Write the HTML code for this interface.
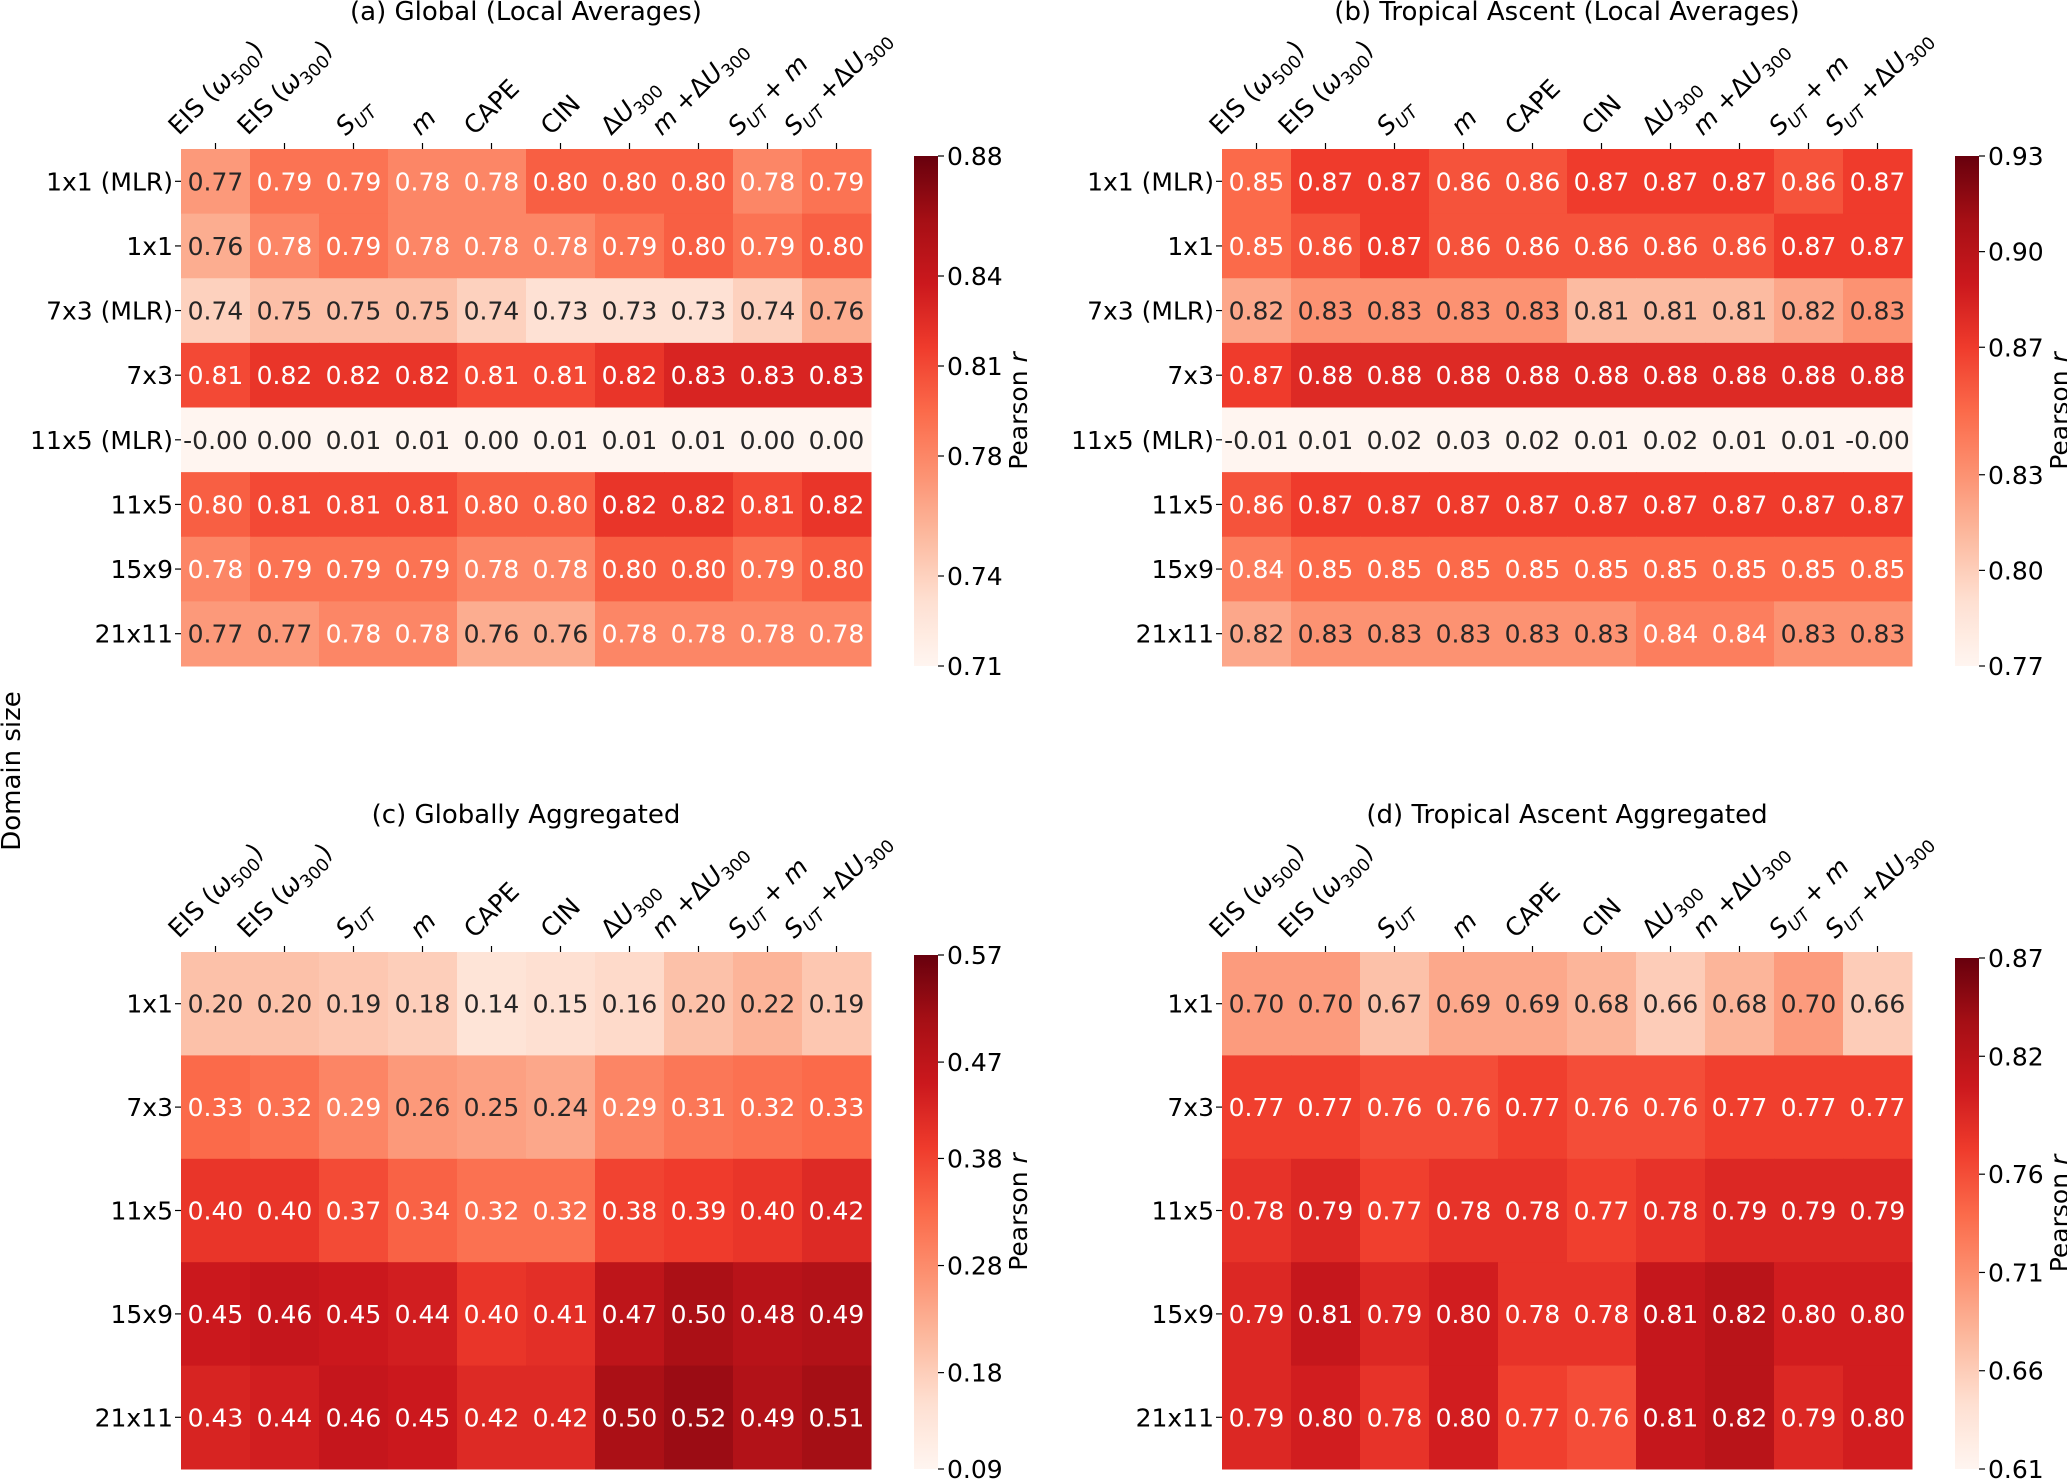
<!DOCTYPE html>
<html><head><meta charset="utf-8"><style>
html,body{margin:0;padding:0;background:#fff;}
svg{display:block;font-family:"DejaVu Sans","Liberation Sans",sans-serif;}
</style></head><body>
<svg id="fig" width="2067" height="1481" viewBox="0 0 2067 1481" xmlns="http://www.w3.org/2000/svg">
<defs id="defs"></defs>
<text x="0" y="0" font-size="26" text-anchor="middle" transform="translate(20,771) rotate(-90)">Domain size</text>
</svg>
<script>
// ---- data ----
const colLabels = ['EIS (ω500)','EIS (ω300)','SUT','m','CAPE','CIN','ΔU300','m +ΔU300','SUT + m','SUT +ΔU300'];
const rowsLocal = ['1x1 (MLR)','1x1','7x3 (MLR)','7x3','11x5 (MLR)','11x5','15x9','21x11'];
const rowsAgg = ['1x1','7x3','11x5','15x9','21x11'];
const valuesA = [
[0.77,0.79,0.79,0.78,0.78,0.80,0.80,0.80,0.78,0.79],
[0.76,0.78,0.79,0.78,0.78,0.78,0.79,0.80,0.79,0.80],
[0.74,0.75,0.75,0.75,0.74,0.73,0.73,0.73,0.74,0.76],
[0.81,0.82,0.82,0.82,0.81,0.81,0.82,0.83,0.83,0.83],
[-0.001,0.00,0.01,0.01,0.00,0.01,0.01,0.01,0.00,0.00],
[0.80,0.81,0.81,0.81,0.80,0.80,0.82,0.82,0.81,0.82],
[0.78,0.79,0.79,0.79,0.78,0.78,0.80,0.80,0.79,0.80],
[0.77,0.77,0.78,0.78,0.76,0.76,0.78,0.78,0.78,0.78]];
const valuesB = [
[0.85,0.87,0.87,0.86,0.86,0.87,0.87,0.87,0.86,0.87],
[0.85,0.86,0.87,0.86,0.86,0.86,0.86,0.86,0.87,0.87],
[0.82,0.83,0.83,0.83,0.83,0.81,0.81,0.81,0.82,0.83],
[0.87,0.88,0.88,0.88,0.88,0.88,0.88,0.88,0.88,0.88],
[-0.01,0.01,0.02,0.03,0.02,0.01,0.02,0.01,0.01,-0.001],
[0.86,0.87,0.87,0.87,0.87,0.87,0.87,0.87,0.87,0.87],
[0.84,0.85,0.85,0.85,0.85,0.85,0.85,0.85,0.85,0.85],
[0.82,0.83,0.83,0.83,0.83,0.83,0.84,0.84,0.83,0.83]];
const valuesC = [
[0.20,0.20,0.19,0.18,0.14,0.15,0.16,0.20,0.22,0.19],
[0.33,0.32,0.29,0.26,0.25,0.24,0.29,0.31,0.32,0.33],
[0.40,0.40,0.37,0.34,0.32,0.32,0.38,0.39,0.40,0.42],
[0.45,0.46,0.45,0.44,0.40,0.41,0.47,0.50,0.48,0.49],
[0.43,0.44,0.46,0.45,0.42,0.42,0.50,0.52,0.49,0.51]];
const valuesD = [
[0.70,0.70,0.67,0.69,0.69,0.68,0.66,0.68,0.70,0.66],
[0.77,0.77,0.76,0.76,0.77,0.76,0.76,0.77,0.77,0.77],
[0.78,0.79,0.77,0.78,0.78,0.77,0.78,0.79,0.79,0.79],
[0.79,0.81,0.79,0.80,0.78,0.78,0.81,0.82,0.80,0.80],
[0.79,0.80,0.78,0.80,0.77,0.76,0.81,0.82,0.79,0.80]];
const ticksA = [0.71,0.74,0.78,0.81,0.84,0.88];
const ticksB = [0.77,0.80,0.83,0.87,0.90,0.93];
const ticksC = [0.09,0.18,0.28,0.38,0.47,0.57];
const ticksD = [0.61,0.66,0.71,0.76,0.82,0.87];
const rangeA = [0.71,0.88], rangeB = [0.77,0.93], rangeC = [0.09,0.57], rangeD = [0.61,0.87];

// ---- helpers ----
const NS='http://www.w3.org/2000/svg';
const svg=document.getElementById('fig');
const defs=document.getElementById('defs');
const REDS=['#fff5f0','#fee0d2','#fcbba1','#fc9272','#fb6a4a','#ef3b2c','#cb181d','#a50f15','#67000d'];
function hex(h){return [1,3,5].map(i=>parseInt(h.substr(i,2),16));}
function cmap(t){t=Math.max(0,Math.min(1,t));const s=t*(REDS.length-1);const i=Math.min(Math.floor(s),REDS.length-2);const f=s-i;const a=hex(REDS[i]),b=hex(REDS[i+1]);return a.map((v,k)=>Math.round(v+(b[k]-v)*f));}
function lum(c){const l=c.map(v=>{v/=255;return v<=0.03928?v/12.92:Math.pow((v+0.055)/1.055,2.4);});return 0.2126*l[0]+0.7152*l[1]+0.0722*l[2];}
function mk(tag,attrs,parent){const e=document.createElementNS(NS,tag);for(const k in attrs)e.setAttribute(k,attrs[k]);(parent||svg).appendChild(e);return e;}
const SUB='baseline-shift="sub" font-size="70%"';
function labelMarkup(s){
  const map={
   'EIS (ω500)':'EIS (<tspan font-style="italic">ω</tspan><tspan '+SUB+'>500</tspan>)',
   'EIS (ω300)':'EIS (<tspan font-style="italic">ω</tspan><tspan '+SUB+'>300</tspan>)',
   'SUT':'<tspan font-style="italic">S</tspan><tspan '+SUB+' font-style="italic">UT</tspan>',
   'm':'<tspan font-style="italic">m</tspan>',
   'CAPE':'CAPE','CIN':'CIN',
   'ΔU300':'Δ<tspan font-style="italic">U</tspan><tspan '+SUB+'>300</tspan>',
   'm +ΔU300':'<tspan font-style="italic">m</tspan> +Δ<tspan font-style="italic">U</tspan><tspan '+SUB+'>300</tspan>',
   'SUT + m':'<tspan font-style="italic">S</tspan><tspan '+SUB+' font-style="italic">UT</tspan> + <tspan font-style="italic">m</tspan>',
   'SUT +ΔU300':'<tspan font-style="italic">S</tspan><tspan '+SUB+' font-style="italic">UT</tspan> +Δ<tspan font-style="italic">U</tspan><tspan '+SUB+'>300</tspan>'};
  return map[s]||s;
}

function panel(id,title,rows,vals,range,ticks,box,cb){
  const g=mk('g',{});
  
  
  const [x0,y0,x1,y1]=box;
  const nC=colLabels.length,nR=rows.length;
  const cw=(x1-x0)/nC,ch=(y1-y0)/nR;
  const xs=c=>x0+c*cw, ys=r=>y0+r*ch;
  const tnorm=v=>(v-range[0])/(range[1]-range[0]);
  // title
  const tt=mk('text',{x:(x0+x1)/2,y:box[4],'font-size':26,'text-anchor':'middle'},g);
  
  
  tt.textContent=title;
  // cells
  for(let r=0;r<nR;r++)for(let c=0;c<nC;c++){
    const v=vals[r][c];const col=cmap(tnorm(v));
    const rc=mk('rect',{x:xs(c),y:ys(r),width:cw+0.5,height:ch+0.5,fill:'rgb('+col.join(',')+')'},g);
    
    
    const tx=mk('text',{x:xs(c)+cw/2,y:ys(r)+ch/2+9,'font-size':25,'text-anchor':'middle',fill:lum(col)>0.408?'#262626':'#ffffff'},g);
    
    
    tx.textContent=v.toFixed(2);
  }
  // row labels
  for(let r=0;r<nR;r++){
    const cy=ys(r)+ch/2;
    mk('line',{x1:x0-6,x2:x0,y1:cy,y2:cy,stroke:'#000','stroke-width':1.2},g);
    const t=mk('text',{x:x0-8,y:cy+9,'font-size':25,'text-anchor':'end'},g);
    
    
    t.textContent=rows[r];
  }
  // col labels
  for(let c=0;c<nC;c++){
    const cx=xs(c)+cw/2;
    mk('line',{x1:cx,x2:cx,y1:y0-6,y2:y0,stroke:'#000','stroke-width':1.2},g);
    const t=mk('text',{x:0,y:0,'font-size':25,'text-anchor':'middle','dominant-baseline':'central'},g);
    
    
    t.innerHTML=labelMarkup(colLabels[c]);
    const L=t.getComputedTextLength();const h=25;
    const half=(L+h)/(2*Math.SQRT2);
    t.setAttribute('transform','translate('+cx+','+(y0-10-half)+') rotate(-45)');
  }
  // colorbar
  const [cx0,cx1,cy0,cy1,labX]=cb;
  const gid='grad'+id;
  const lg=mk('linearGradient',{id:gid,x1:0,y1:1,x2:0,y2:0},defs);
  for(let i=0;i<=32;i++){const col=cmap(i/32);mk('stop',{offset:(i/32),'stop-color':'rgb('+col.join(',')+')'},lg);}
  const cbr=mk('rect',{x:cx0,y:cy0,width:cx1-cx0,height:cy1-cy0,fill:'url(#'+gid+')'},g);
  
  
  for(const tv of ticks){
    const ty=cy1-(tv-range[0])/(range[1]-range[0])*(cy1-cy0);
    mk('line',{x1:cx1,x2:cx1+6,y1:ty,y2:ty,stroke:'#000','stroke-width':1.2},g);
    const t=mk('text',{x:cx1+9,y:ty+9,'font-size':25},g);
    
    
    t.textContent=tv.toFixed(2);
  }
  const cl=mk('text',{x:0,y:0,'font-size':25,'text-anchor':'middle',transform:'translate('+labX+','+((cy0+cy1)/2)+') rotate(-90)'},g);
  
  
  cl.innerHTML='Pearson <tspan font-style="italic">r</tspan>';
}
panel('a','(a) Global (Local Averages)',rowsLocal,valuesA,rangeA,ticksA,[181,149,871,666,20],[914,938,156,666,1027]);
panel('b','(b) Tropical Ascent (Local Averages)',rowsLocal,valuesB,rangeB,ticksB,[1222,149,1912,666,20],[1955,1979,156,666,2068]);
panel('c','(c) Globally Aggregated',rowsAgg,valuesC,rangeC,ticksC,[181,952,871,1469,823],[914,938,955,1469,1027]);
panel('d','(d) Tropical Ascent Aggregated',rowsAgg,valuesD,rangeD,ticksD,[1222,952,1912,1469,823],[1955,1979,958,1469,2068]);
</script>
</body></html>
